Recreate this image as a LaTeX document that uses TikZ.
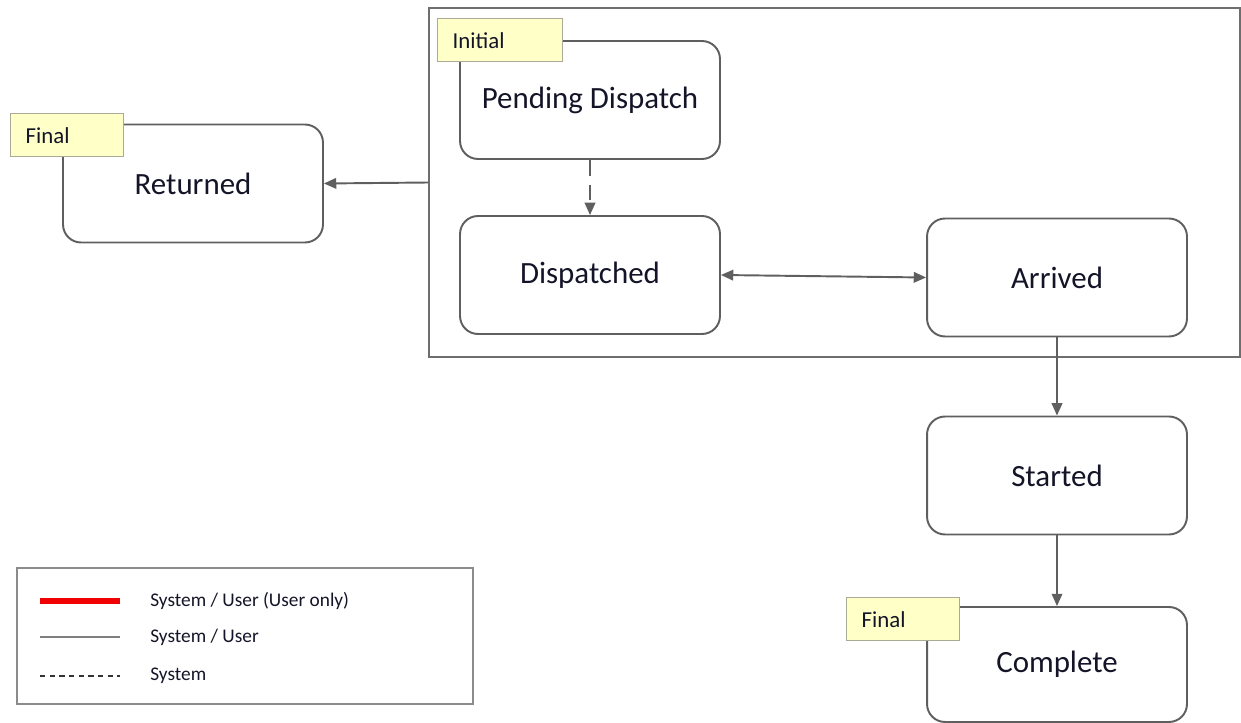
\documentclass[tikz,border=0pt]{standalone}
\usepackage{fontspec}
\setmainfont{Carlito}
\usetikzlibrary{arrows.meta, positioning}
\definecolor{linegray}{RGB}{95,95,95}
\definecolor{framegray}{RGB}{110,110,110}
\definecolor{tagyellow}{RGB}{255,255,200}
\definecolor{tagedge}{RGB}{170,170,150}
\definecolor{textdark}{RGB}{20,20,40}
\definecolor{userred}{RGB}{240,0,0}

\tikzset{
  state/.style={draw=linegray, line width=1.1pt, rounded corners=0.36cm,
    minimum width=5.2cm, minimum height=2.36cm, text=textdark,
    font=\fontsize{17.6}{21}\selectfont},
  tag/.style={draw=tagedge, fill=tagyellow, line width=0.8pt, anchor=north west,
    text width=#1, inner xsep=0.3cm, inner ysep=0pt, minimum height=0.86cm,
    align=left, text=textdark, font=\fontsize{13}{15}\selectfont},
  flow/.style={draw=linegray, line width=1.1pt, -{Triangle[length=7pt,width=6pt]}},
  legendtext/.style={anchor=west, inner sep=0pt, text=textdark,
    font=\fontsize{11}{13}\selectfont},
}

\begin{document}
\begin{tikzpicture}[x=0.02cm, y=-0.02cm]
  \useasboundingbox (0,0) rectangle (1241,723);

  % dispatch group
  \node[draw=framegray, line width=1.1pt, minimum width=16.22cm, minimum height=6.98cm]
    (group) at (834.5,182.5) {};

  % states
  \node[state] (pending) at (590,100) {Pending Dispatch};
  \node[state] (dispatched) at (590,275) {Dispatched};
  \node[state] (arrived) at (1057,277.5) {Arrived};
  \node[state] (started) at (1057,475.5) {Started};
  \node[state, minimum height=2.3cm] (complete) at (1057,664.5) {Complete};
  \node[state] (returned) at (193,183.5) {Returned};

  % tags
  \node[tag=1.9cm] (initialtag) at (437,18) {Initial};
  \node[tag=1.66cm] (finalret) at (10,113) {Final};
  \node[tag=1.66cm] (finalcomp) at (846,597) {Final};

  % transitions
  \draw[flow] (group.west) -- (returned.east);
  \draw[flow, dash pattern=on 9pt off 5pt] (pending.south) -- (dispatched.north);
  \draw[flow, {Triangle[length=7pt,width=6pt]}-{Triangle[length=7pt,width=6pt]}]
    (dispatched.east) -- (arrived.west);
  \draw[flow] (arrived.south) -- (started.north);
  \draw[flow] (started.south) -- (complete.north);

  % legend
  \node[draw=framegray!80, line width=0.9pt, minimum width=9.12cm, minimum height=2.72cm]
    (legend) at (245,636) {};
  \draw[userred, line width=3.4pt] (40,601) -- (120,601);
  \draw[linegray!80, line width=0.8pt] (40,637) -- (120,637);
  \draw[black!80, line width=0.8pt, dash pattern=on 3pt off 2.5pt] (40,676) -- (120,676);
  \node[legendtext] (lgred) at (150,601) {System / User (User only)};
  \node[legendtext] (lggray) at (150,637) {System / User};
  \node[legendtext] (lgdash) at (150,676) {System};
\end{tikzpicture}
\end{document}
